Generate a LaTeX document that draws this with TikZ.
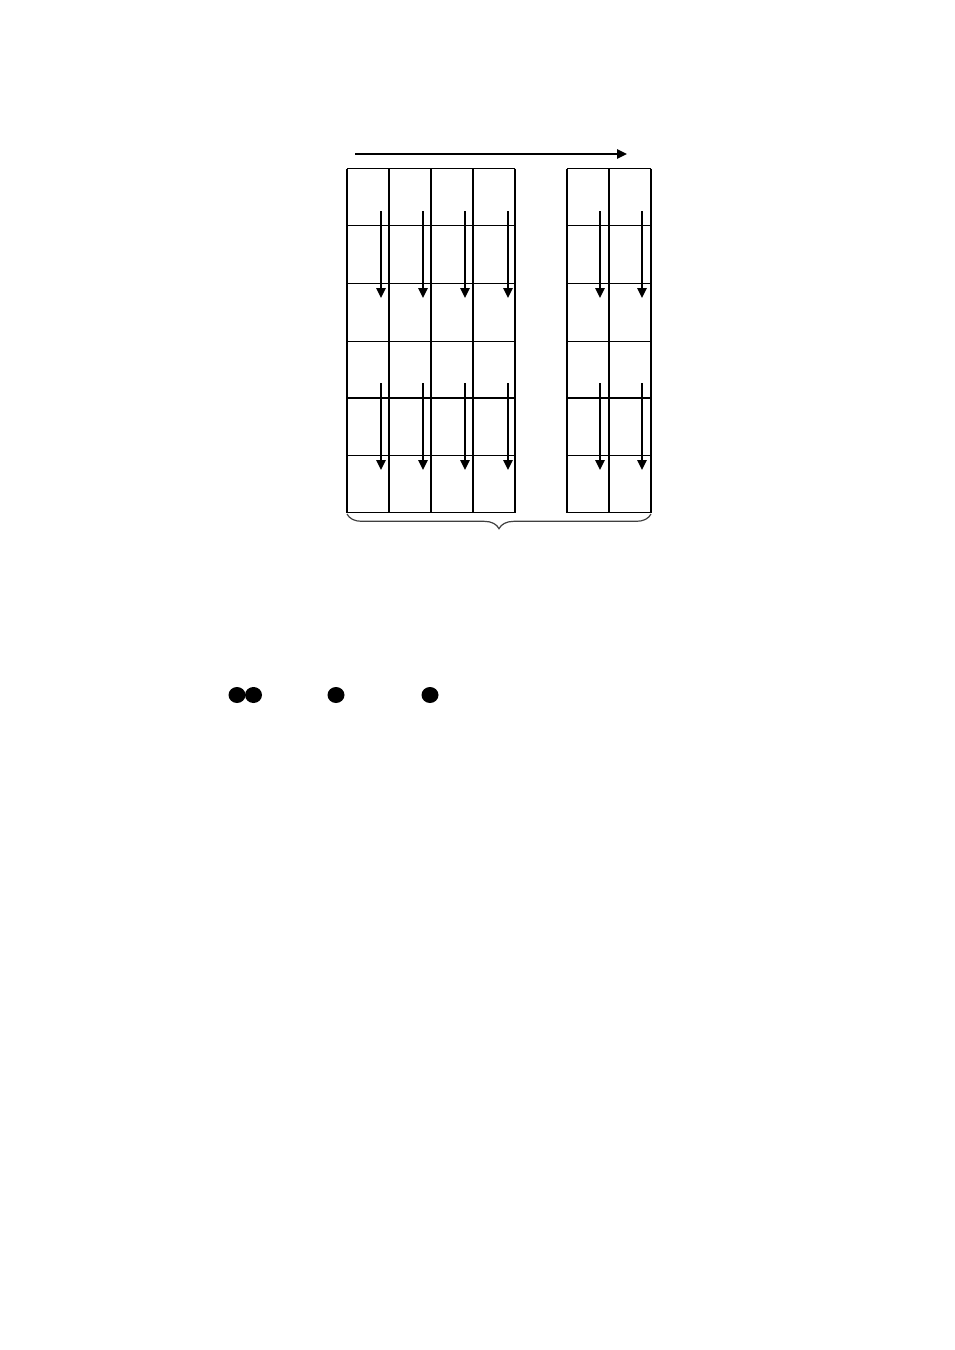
\documentclass[tikz,border=0pt]{standalone}
\usepackage{amsmath}
\usepackage{tikz}
\usetikzlibrary{arrows.meta,decorations.pathreplacing}

\begin{document}
\begin{tikzpicture}[x=0.75pt,y=-0.75pt,
    cell/.style={line width=0.8pt},
    flow/.style={line width=1.3pt,-{Triangle[length=7.5pt,width=7pt]}}]
    \useasboundingbox (0,0) rectangle (954,1350);
    % top arrow
    \coordinate (ts) at (355,154);
    \coordinate (te) at (627,154);
    \draw[flow] (ts) -- (te);
    % left block, 4 columns
    \foreach \x in {347,389,431,473,515}
        \draw[cell] (\x,168.5) -- (\x,512.5);
    \foreach \y in {168.5,225.5,283.5,341.5,455.5,512.5}
        \draw[cell] (347,\y) -- (515,\y);
    % right block, 2 columns
    \foreach \x in {567,609,651}
        \draw[cell] (\x,168.5) -- (\x,512.5);
    \foreach \y in {168.5,225.5,283.5,341.5,455.5,512.5}
        \draw[cell] (567,\y) -- (651,\y);
    % thick middle line
    \draw[line width=1.6pt] (347,398) -- (515,398);
    \draw[line width=1.6pt] (567,398) -- (651,398);
    % down arrows
    \foreach \x [count=\i] in {381,423,465,508,600,642} {
        \coordinate (a\i) at (\x,211);
        \coordinate (b\i) at (\x,298);
        \coordinate (c\i) at (\x,383);
        \coordinate (d\i) at (\x,470);
        \draw[flow] (a\i) -- (b\i);
        \draw[flow] (c\i) -- (d\i);
    }
    % brace under the blocks
    \coordinate (bl) at (347,514);
    \coordinate (br) at (651,514);
    \draw[black!75,line width=0.9pt,decorate,decoration={brace,mirror,amplitude=11pt}] (bl) -- (br);
    % dots
    \fill (237,695) ellipse (8.5 and 8);
    \fill (253.5,695) ellipse (8.5 and 8);
    \fill (336,695) ellipse (8.5 and 8);
    \fill (430,695) ellipse (8.5 and 8);
\end{tikzpicture}
\end{document}
